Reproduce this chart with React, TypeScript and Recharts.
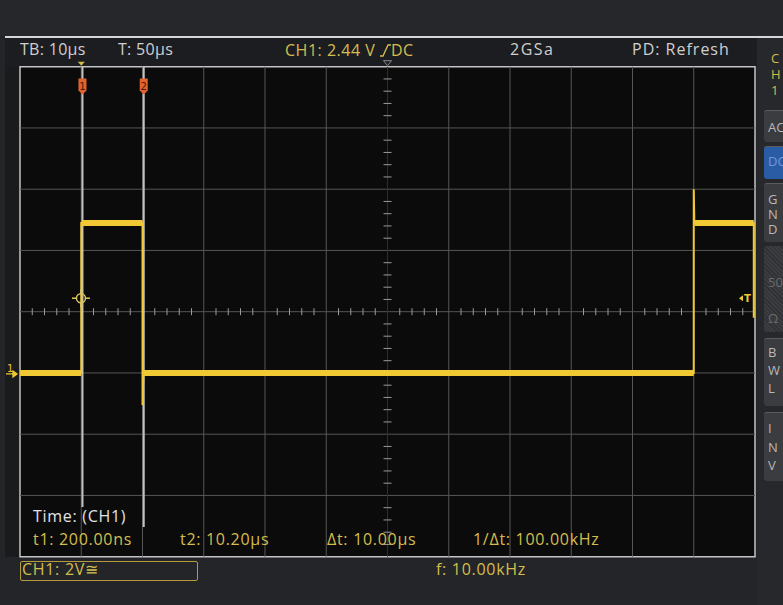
import React from "react";
import { ComposedChart, Line, Scatter, XAxis, YAxis, ReferenceLine, ReferenceArea, ReferenceDot } from "recharts";

// scope screen: 10 µs/div horizontally, 2 V/div vertically
const TIME_DOMAIN = [-10, 110];
const VOLT_DOMAIN = [-6, 10];
const GRID_TIMES = [0, 10, 20, 30, 40, 60, 70, 80, 90, 100];
const GRID_VOLTS = [-4, -2, 0, 2, 4, 6, 8];
const MINOR_TIMES = Array.from({ length: 61 }, (_, i) => -10 + i * 2).filter((t) => t % 10 !== 0);
const MINOR_VOLTS = Array.from({ length: 41 }, (_, i) => Math.round((-6 + i * 0.4) * 10) / 10).filter(
  (v) => Math.abs(v % 2) > 0.01
);

// CH1 trace, edges (thin) and flat levels (thick)
const EDGE_T = [-10, 0, 0, 10, 10, 10.15, 100, 100, 100.1, 109.8, 109.8];
const EDGE_V = [0, 0, 4.9, 4.9, -1.05, 0, 0, 6.0, 4.9, 4.9, 1.8];
const LEVEL_T = [-10, 0, 0.05, 0.05, 10, 10, 10.2, 100, 100, 100.1, 109.8];
const LEVEL_V = [0, 0, null, 4.9, 4.9, null, 0, 0, null, 4.9, 4.9];

const CURSOR_T1 = 0.2;
const CURSOR_T2 = 10.2;
const TRIGGER_LEVEL = 2.44;

const edgeData = EDGE_T.map((t, i) => ({ t, v: EDGE_V[i] }));
const levelData = LEVEL_T.map((t, i) => ({ t, v: LEVEL_V[i] }));
const minorH = MINOR_TIMES.map((t) => ({ t, v: 2 }));
const minorV = MINOR_VOLTS.map((v) => ({ t: 50, v }));

const TRACE = "#f1c935";
const LABEL = "#d4bd4e";
const GRID = "#565656";

const cursorTag = (n: string) => (p: any) => {
  const { cx, cy } = p;
  return (
    <g>
      <path
        d={`M${cx - 4},${cy - 8} L${cx + 4},${cy - 8} L${cx + 4},${cy + 4} L${cx},${cy + 8} L${cx - 4},${cy + 4} Z`}
        fill="#e2632b"
      />
      <text x={cx} y={cy + 3} fill="#4a1a08" fontSize={10} textAnchor="middle" fontFamily="DejaVu Sans">
        {n}
      </text>
    </g>
  );
};

const crosshair = (p: any) => {
  const { cx, cy } = p;
  const c = "#d8c65c";
  return (
    <g stroke={c} strokeWidth={1.5} fill="none">
      <circle cx={cx} cy={cy} r={4.5} />
      <line x1={cx - 9} y1={cy} x2={cx - 4.5} y2={cy} />
      <line x1={cx + 4.5} y1={cy} x2={cx + 9} y2={cy} />
      <line x1={cx} y1={cy - 9} x2={cx} y2={cy - 4.5} />
      <line x1={cx} y1={cy + 4.5} x2={cx} y2={cy + 9} />
    </g>
  );
};

const trigTop = (p: any) => {
  const { cx, cy } = p;
  return <path d={`M${cx - 3.5},${cy - 5} L${cx + 3.5},${cy - 5} L${cx},${cy - 1} Z`} fill={LABEL} />;
};

const centerTop = (p: any) => {
  const { cx, cy } = p;
  return <path d={`M${cx - 4},${cy - 6} L${cx + 4},${cy - 6} L${cx},${cy - 1} Z`} fill="none" stroke="#8a8a8a" />;
};

const groundMark = (p: any) => {
  const { cx, cy } = p;
  return (
    <g>
      <text x={cx - 13} y={cy - 1} fill={TRACE} fontSize={10} fontFamily="DejaVu Sans">
        1
      </text>
      <path d={`M${cx - 14},${cy + 1} L${cx - 5},${cy + 1} M${cx - 7},${cy - 2} L${cx - 3},${cy + 1} L${cx - 7},${cy + 4} Z`} stroke={TRACE} fill={TRACE} strokeWidth={1.3} />
    </g>
  );
};

const trigRight = (p: any) => {
  const { cx, cy } = p;
  return (
    <g>
      <path d={`M${cx - 16},${cy} L${cx - 12},${cy - 3} L${cx - 12},${cy + 3} Z`} fill={TRACE} />
      <text x={cx - 11} y={cy + 4} fill={TRACE} fontSize={10} fontWeight="bold" fontFamily="DejaVu Sans">
        T
      </text>
    </g>
  );
};

const vTick = (p: any) => <line x1={p.cx} y1={p.cy - 3.5} x2={p.cx} y2={p.cy + 3.5} stroke="#9a9a9a" strokeWidth={1} />;
const hTick = (p: any) => <line x1={p.cx - 4} y1={p.cy} x2={p.cx + 4} y2={p.cy} stroke="#9a9a9a" strokeWidth={1} />;

const abs = (style: React.CSSProperties): React.CSSProperties => ({ position: "absolute", ...style });

function Txt({ x, y, color, size = 16, spacing = 0.7, lh = 1.1, children }: { x: number; y: number; color: string; size?: number; spacing?: number; lh?: number; children: React.ReactNode }) {
  return (
    <div style={abs({ left: x, top: y - (size * lh) / 2, fontSize: size, color, lineHeight: `${size * lh}px`, letterSpacing: spacing, whiteSpace: "nowrap" })}>
      {children}
    </div>
  );
}

function SideBtn({ top, height, letters, ys, bg = "#3a3c40", color = "#b8b8b8" }: { top: number; height: number; letters: string[]; ys: number[]; bg?: string; color?: string }) {
  return (
    <>
      <div style={abs({ left: 764, top, width: 30, height, background: bg, borderRadius: 3, borderTop: "1px solid #5a5c60" })} />
      {letters.map((l, i) => (
        <Txt key={i} x={768} y={ys[i]} color={color} size={13} spacing={0} lh={1}>
          {l}
        </Txt>
      ))}
    </>
  );
}

export default function App() {
  return (
    <div style={abs({ left: 0, top: 0, width: 783, height: 605, background: "#232528", overflow: "hidden", fontFamily: '"Open Sans", sans-serif' })}>
      <div style={abs({ left: 0, top: 0, width: 783, height: 36, background: "#25272b" })} />
      <div style={abs({ left: 5, top: 36, width: 778, height: 1.5, background: "#d6d6d6" })} />
      <div style={abs({ left: 5, top: 38, width: 752, height: 29, background: "#1c1d20" })} />
      <div style={abs({ left: 5, top: 66, width: 15, height: 491, background: "#1a1b1d" })} />
      <div style={abs({ left: 757, top: 38, width: 26, height: 567, background: "#26282c" })} />

      <Txt x={20} y={50} color="#cfcfcf" spacing={0.3}>TB: 10µs</Txt>
      <Txt x={118} y={50} color="#cfcfcf" spacing={0.3}>T: 50µs</Txt>
      <div style={abs({ left: 285, top: 40, fontSize: 16, color: LABEL, lineHeight: "20px", letterSpacing: 0.5, whiteSpace: "nowrap" })}>
        CH1: 2.44 V{" "}
        <svg width={11} height={13} style={{ verticalAlign: "-1px" }}>
          <path d="M0,12 L3,12 L8,1 L11,1" stroke={LABEL} fill="none" strokeWidth={1.3} />
        </svg>
        DC
      </div>
      <Txt x={510} y={50} color="#cfcfcf" spacing={1.5}>2GSa</Txt>
      <Txt x={632} y={50} color="#cfcfcf" spacing={1}>PD: Refresh</Txt>

      <Txt x={771} y={58} color={LABEL} size={13} spacing={0} lh={1}>C</Txt>
      <Txt x={771} y={74} color={LABEL} size={13} spacing={0} lh={1}>H</Txt>
      <Txt x={771} y={90} color={LABEL} size={13} spacing={0} lh={1}>1</Txt>
      <SideBtn top={110} height={31} letters={["AC"]} ys={[127]} />
      <SideBtn top={146} height={32} letters={["DC"]} ys={[161]} bg="#2a5ca6" color="#6f98d6" />
      <SideBtn top={183} height={58} letters={["G", "N", "D"]} ys={[199, 214, 229]} />
      <div style={abs({ left: 764, top: 246, width: 30, height: 86, background: "repeating-linear-gradient(45deg,#2e3034 0 1px,#3a3c40 1px 3px)", borderRadius: 3 })} />
      <Txt x={768} y={282} color="#6a6a6a" size={13} spacing={0} lh={1}>50</Txt>
      <Txt x={768} y={318} color="#6a6a6a" size={13} spacing={0} lh={1}>Ω</Txt>
      <SideBtn top={338} height={67} letters={["B", "W", "L"]} ys={[352, 370, 388]} />
      <SideBtn top={412} height={68} letters={["I", "N", "V"]} ys={[428, 447, 465]} />

      <div style={abs({ left: 0, top: 0 })}>
        <ComposedChart width={783} height={605} margin={{ top: 66.7, right: 28, bottom: 48.3, left: 20 }}>
          <XAxis type="number" dataKey="t" domain={TIME_DOMAIN} hide allowDataOverflow />
          <YAxis type="number" dataKey="v" domain={VOLT_DOMAIN} hide allowDataOverflow />
          <ReferenceArea x1={-10} x2={110} y1={-6} y2={10} fill="#0b0b0b" fillOpacity={1} stroke="#c4c4c4" strokeWidth={1.5} />
          {GRID_TIMES.map((t) => (
            <ReferenceLine key={`gx${t}`} x={t} stroke={GRID} strokeWidth={1} />
          ))}
          {GRID_VOLTS.map((v) => (
            <ReferenceLine key={`gy${v}`} y={v} stroke={GRID} strokeWidth={1} />
          ))}
          <ReferenceLine x={50} stroke="#2e2e2e" strokeWidth={1} />
          <Scatter data={minorH} dataKey="v" shape={vTick} isAnimationActive={false} />
          <Scatter data={minorV} dataKey="v" shape={hTick} isAnimationActive={false} />
          <ReferenceLine segment={[{ x: CURSOR_T1, y: 10 }, { x: CURSOR_T1, y: -4.38 }]} stroke="#c2c2c2" strokeWidth={2} />
          <ReferenceLine segment={[{ x: CURSOR_T2, y: 10 }, { x: CURSOR_T2, y: -5.03 }]} stroke="#c2c2c2" strokeWidth={2} />
          <Line data={levelData} dataKey="v" stroke={TRACE} strokeWidth={6} dot={false} isAnimationActive={false} connectNulls={false} />
          <Line data={edgeData} dataKey="v" stroke={TRACE} strokeWidth={2} dot={false} isAnimationActive={false} />
          <ReferenceDot x={CURSOR_T1} y={9.35} shape={cursorTag("1")} />
          <ReferenceDot x={CURSOR_T2} y={9.35} shape={cursorTag("2")} />
          <ReferenceDot x={-0.05} y={TRIGGER_LEVEL} shape={crosshair} />
          <ReferenceDot x={0} y={10} shape={trigTop} />
          <ReferenceDot x={50} y={10} shape={centerTop} />
          <ReferenceDot x={-10} y={0} shape={groundMark} />
          <ReferenceDot x={110} y={TRIGGER_LEVEL} shape={trigRight} />
        </ComposedChart>
      </div>

      <Txt x={33} y={517} color="#e2e2e2">Time: (CH1)</Txt>
      <Txt x={33} y={540} color={LABEL}>t1: 200.00ns</Txt>
      <Txt x={180} y={540} color={LABEL}>t2: 10.20µs</Txt>
      <Txt x={327} y={540} color={LABEL}>Δt: 10.00µs</Txt>
      <Txt x={473} y={540} color={LABEL}>1/Δt: 100.00kHz</Txt>
      <div style={abs({ left: 20, top: 561, width: 176, height: 18, border: "1px solid #b59a3e", borderRadius: 2 })} />
      <Txt x={22} y={570} color={LABEL}>CH1: 2V≅</Txt>
      <Txt x={436} y={570} color={LABEL}>f: 10.00kHz</Txt>
    </div>
  );
}
